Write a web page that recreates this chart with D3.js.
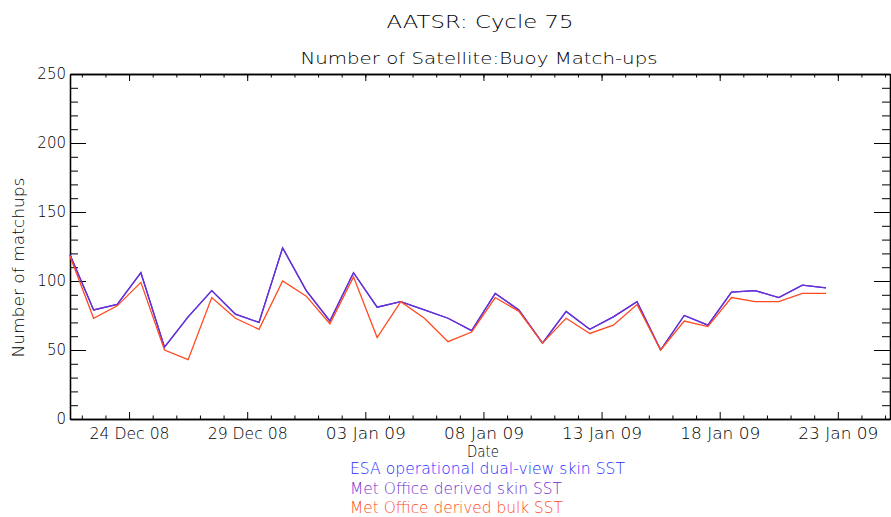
<!DOCTYPE html>
<html>
<head>
<meta charset="utf-8">
<script src="https://cdn.jsdelivr.net/npm/d3@7"></script>
<style>
  body { margin: 0; background: #fff; }
  svg text { font-family: "DejaVu Sans", sans-serif; font-weight: 200; }
</style>
</head>
<body>
<div id="chart"></div>
<script>
// 일별 매치업 (정오 기준)
var dates = [
  "2008-12-21T12:00Z","2008-12-22T12:00Z","2008-12-23T12:00Z","2008-12-24T12:00Z","2008-12-25T12:00Z",
  "2008-12-26T12:00Z","2008-12-27T12:00Z","2008-12-28T12:00Z","2008-12-29T12:00Z","2008-12-30T12:00Z",
  "2008-12-31T12:00Z","2009-01-01T12:00Z","2009-01-02T12:00Z","2009-01-03T12:00Z","2009-01-04T12:00Z",
  "2009-01-05T12:00Z","2009-01-06T12:00Z","2009-01-07T12:00Z","2009-01-08T12:00Z","2009-01-09T12:00Z",
  "2009-01-10T12:00Z","2009-01-11T12:00Z","2009-01-12T12:00Z","2009-01-13T12:00Z","2009-01-14T12:00Z",
  "2009-01-15T12:00Z","2009-01-16T12:00Z","2009-01-17T12:00Z","2009-01-18T12:00Z","2009-01-19T12:00Z",
  "2009-01-20T12:00Z","2009-01-21T12:00Z","2009-01-22T12:00Z"
];
var skinSST = [119, 79, 83, 106, 52, 74, 93, 76, 70, 124, 93, 71, 106, 81, 85, 79, 73,
               64, 91, 79, 55, 78, 65, 74, 85, 50, 75, 68, 92, 93, 88, 97, 95];
var esaSST  = [119, 79, 83, 106, 52, 74, 93, 76, 70, 124, 93, 71, 106, 81, 85, 79, 73,
               64, 91, 79, 55, 78, 65, 74, 85, 50, 75, 68, 92, 93, 88, 97, 95];
var bulkSST = [118, 73, 82, 99, 50, 43, 88, 73, 65, 100, 89, 69, 103, 59, 85, 73, 56,
               63, 88, 78, 55, 73, 62, 68, 83, 50, 71, 67, 88, 85, 85, 91, 91];
var xDomain = ["2008-12-21T12:00Z", "2009-01-25T05:00Z"];
var yDomain = [0, 250];
var yMajor = [0, 50, 100, 150, 200, 250];
var legendLabels = ["ESA operational dual-view skin SST", "Met Office derived skin SST", "Met Office derived bulk SST"];
var colors = ["#2a2aff", "#7030d0", "#ff4a20"];

var W = 891, H = 517;
var margin = {top: 74, right: 1, bottom: 98, left: 70};
var width = W - margin.left - margin.right,
    height = H - margin.top - margin.bottom;

var svg = d3.select("#chart").append("svg")
  .attr("width", W).attr("height", H);

// IDL 벡터 폰트처럼 넓게
function fit(sel, len){
  sel.attr("textLength", len).attr("lengthAdjust", "spacingAndGlyphs");
}

svg.append("text").attr("x", margin.left + width/2).attr("y", 28)
  .attr("text-anchor", "middle").style("font-size", "18px").text("AATSR: Cycle 75")
  .call(fit, 187);
svg.append("text").attr("x", margin.left + width/2 - 1).attr("y", 64)
  .attr("text-anchor", "middle").style("font-size", "15px").text("Number of Satellite:Buoy Match-ups")
  .call(fit, 357);

var g = svg.append("g").attr("transform", "translate(" + margin.left + "," + margin.top + ")");

var x = d3.scaleUtc().domain(xDomain.map(function(d){ return new Date(d); })).range([0, width]);
var y = d3.scaleLinear().domain(yDomain).range([height, 0]);

var days = d3.utcDay.range(new Date("2008-12-22T00:00Z"), x.domain()[1]);
var majorDays = days.filter(function(d){ return (d3.utcDay.count(new Date("2008-12-24T00:00Z"), d)) % 5 === 0; });
var yMinor = d3.range(0, 251, 10).filter(function(v){ return yMajor.indexOf(v) < 0; });
var fmt = d3.utcFormat("%d %b %y");

function styleAxis(sel){
  sel.select(".domain").attr("stroke", "#000");
  sel.selectAll(".tick line").attr("stroke", "#000");
  sel.selectAll("text").attr("fill", "#000").style("font-size", "15px").style("font-family", "DejaVu Sans, sans-serif");
}

// 아래 축
g.append("g").attr("transform", "translate(0," + height + ")")
  .call(d3.axisBottom(x).tickValues(days.filter(function(d){ return majorDays.indexOf(d) < 0; })).tickSizeInner(-3.5).tickSizeOuter(0).tickFormat(""))
  .call(styleAxis);
g.append("g").attr("transform", "translate(0," + height + ")")
  .call(d3.axisBottom(x).tickValues(majorDays).tickSizeInner(-7).tickSizeOuter(0).tickPadding(9).tickFormat(fmt))
  .call(styleAxis)
  .selectAll(".tick text").call(fit, 80);
// 위 축
g.append("g")
  .call(d3.axisTop(x).tickValues(days).tickSizeInner(-3.5).tickSizeOuter(0).tickFormat(""))
  .call(styleAxis);
g.append("g")
  .call(d3.axisTop(x).tickValues(majorDays).tickSizeInner(-7).tickSizeOuter(0).tickFormat(""))
  .call(styleAxis);
// 왼쪽 축
g.append("g")
  .call(d3.axisLeft(y).tickValues(yMinor).tickSizeInner(-8).tickSizeOuter(0).tickFormat(""))
  .call(styleAxis);
g.append("g")
  .call(d3.axisLeft(y).tickValues(yMajor).tickSizeInner(-16).tickSizeOuter(0).tickPadding(4).tickFormat(d3.format("d")))
  .call(styleAxis);
// 오른쪽 축
g.append("g").attr("transform", "translate(" + width + ",0)")
  .call(d3.axisRight(y).tickValues(yMinor).tickSizeInner(-8).tickSizeOuter(0).tickFormat(""))
  .call(styleAxis);
g.append("g").attr("transform", "translate(" + width + ",0)")
  .call(d3.axisRight(y).tickValues(yMajor).tickSizeInner(-16).tickSizeOuter(0).tickFormat(""))
  .call(styleAxis);

g.selectAll(".domain").attr("stroke-width", 1.3);

svg.append("text").attr("transform", "translate(24," + (margin.top + height/2 + 21) + ") rotate(-90)")
  .attr("text-anchor", "middle").style("font-size", "15px").text("Number of matchups")
  .call(fit, 180);
svg.append("text").attr("x", margin.left + width/2 + 3).attr("y", 457)
  .attr("text-anchor", "middle").style("font-size", "15px").text("Date")
  .call(fit, 32);

var line = d3.line()
  .x(function(d, i){ return x(new Date(dates[i])); })
  .y(function(d){ return y(d); });

[esaSST, skinSST, bulkSST].forEach(function(s, i){
  g.append("path").datum(s)
    .attr("fill", "none")
    .attr("stroke", colors[i])
    .attr("stroke-width", 1.3)
    .attr("d", line);
});

var legendWidths = [275, 212, 213];
svg.selectAll(".legend").data(legendLabels).enter().append("text")
  .attr("class", "legend")
  .attr("x", 350)
  .attr("y", function(d, i){ return 474 + i*19.5; })
  .attr("fill", function(d, i){ return colors[i]; })
  .style("font-size", "15px")
  .text(function(d){ return d; })
  .each(function(d, i){ d3.select(this).call(fit, legendWidths[i]); });
</script>
</body>
</html>
